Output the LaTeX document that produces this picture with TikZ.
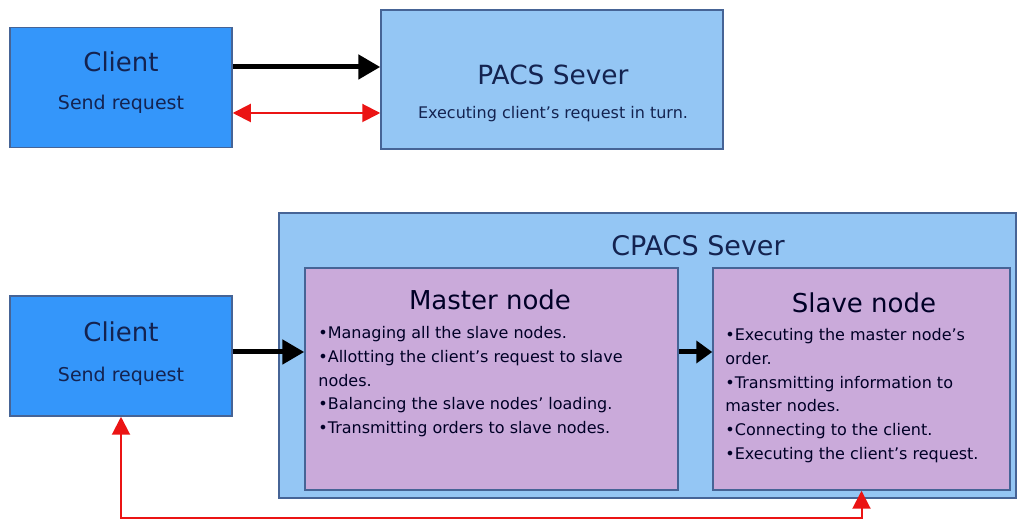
\documentclass[tikz,border=0pt]{standalone}
\usepackage{fontspec}
\setmainfont{DejaVu Sans}
\usepackage{tikz}
\usetikzlibrary{arrows.meta}
\definecolor{clientblue}{RGB}{52,150,250}
\definecolor{serverblue}{RGB}{148,198,244}
\definecolor{nodepurple}{RGB}{202,170,218}
\definecolor{edgeblue}{RGB}{70,100,150}
\definecolor{textnavy}{RGB}{20,35,80}
\definecolor{arrowred}{RGB}{235,20,20}

\begin{document}
\begin{tikzpicture}[x=0.5pt, y=-0.5pt,
    box/.style={draw=edgeblue, line width=0.75pt, inner sep=0pt},
    clientbox/.style={box, fill=clientblue, minimum width=111pt, minimum height=60pt},
    serverbox/.style={box, fill=serverblue},
    partbox/.style={box, fill=nodepurple, minimum width=#1, minimum height=111pt},
    head/.style={text=textnavy, inner sep=0pt, font=\fontsize{13}{15}\selectfont},
    sub/.style={text=textnavy, inner sep=0pt, font=\fontsize{9.5}{11}\selectfont},
    items/.style={text=black!85!blue, inner sep=0pt, align=left, anchor=north west,
        font=\fontsize{8}{11.9}\selectfont},
    blackarrow/.style={line width=2.5pt, -{Triangle[length=11pt, width=12pt]}},
    redarrow/.style={draw=arrowred, line width=1pt, {Triangle[length=9pt, width=9pt]}-{Triangle[length=9pt, width=9pt]}}]
        \useasboundingbox (0, 0) rectangle (1018, 522);
        % top: client and PACS server
        \node[clientbox] (client1) at (121, 87.5) {};
        \node[head] (client1t) at (121, 62) {Client};
        \node[sub] (client1s) at (121, 104) {Send request};
        \node[serverbox, minimum width=171pt, minimum height=69.5pt] (pacs) at (552, 79.5) {};
        \node[head, font=\fontsize{13.2}{15}\selectfont] (pacst) at (553, 75) {PACS Sever};
        \node[sub, font=\fontsize{8}{10}\selectfont] (pacss) at (553, 114) {Executing client's request in turn.};
        \draw[blackarrow] ([yshift=10.25pt]client1.east) -- ([yshift=10.25pt]client1.east -| pacs.west);
        \draw[redarrow] ([yshift=-12.75pt]client1.east) -- ([yshift=-12.75pt]client1.east -| pacs.west);
        % bottom: client and CPACS server
        \node[clientbox] (client2) at (121, 356) {};
        \node[head] (client2t) at (121, 332) {Client};
        \node[sub] (client2s) at (121, 376) {Send request};
        \node[serverbox, minimum width=368.5pt, minimum height=142.5pt] (cpacs) at (647.5, 355.5) {};
        \node[head, font=\fontsize{13.5}{15}\selectfont] (cpacst) at (698, 246) {CPACS Sever};
        \node[partbox=186.5pt] (master) at (491.5, 379) {};
        \node[partbox=148.5pt] (slave) at (861.5, 379) {};
        \node[head, text=black!85!blue] (mastert) at (490, 300) {Master node};
        \node[head, text=black!85!blue] (slavet) at (864, 303) {Slave node};
        \node[items] (masterlist) at (318, 326) {\textbullet Managing all the slave nodes.\\
            \textbullet Allotting the client's request to slave\\
            nodes.\\
            \textbullet Balancing the slave nodes' loading.\\
            \textbullet Transmitting orders to slave nodes.};
        \node[items] (slavelist) at (725, 328) {\textbullet Executing the master node's\\
            order.\\
            \textbullet Transmitting information to\\
            master nodes.\\
            \textbullet Connecting to the client.\\
            \textbullet Executing the client's request.};
        \draw[blackarrow] ([yshift=2pt]client2.east) -- ([yshift=2pt]client2.east -| master.west);
        \draw[blackarrow, -{Triangle[length=8pt, width=11pt]}] ([yshift=2pt]client2.east -| master.east) -- ([yshift=2pt]client2.east -| slave.west);
        \draw[redarrow] (slave.south) -- ++(0, 27) -| (client2.south);
    \end{tikzpicture}
\end{document}
